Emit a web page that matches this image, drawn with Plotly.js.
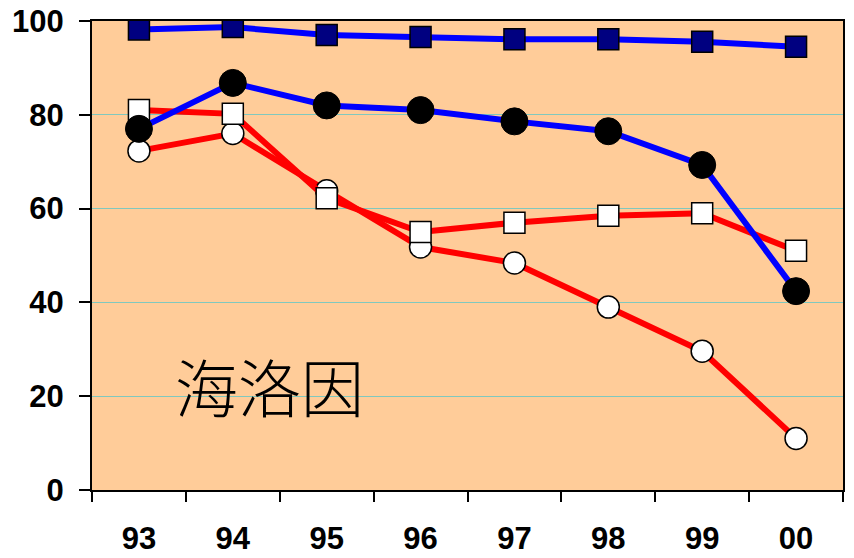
<!DOCTYPE html>
<html>
<head>
<meta charset="utf-8">
<script src="https://cdn.plot.ly/plotly-3.0.1.min.js"></script>
<style>html,body{margin:0;padding:0;background:#fff;overflow:hidden;}#chart{width:854px;height:558px;}</style>
</head>
<body>
<div id="chart"></div>
<script>
var years = ['93','94','95','96','97','98','99','00'];
var navySquares = [98.2, 98.7, 97.0, 96.6, 96.1, 96.1, 95.6, 94.5];
var blackCircles = [77.0, 86.8, 82.0, 81.0, 78.6, 76.5, 69.3, 42.4];
var whiteSquares = [81.0, 80.2, 62.2, 55.0, 57.0, 58.5, 59.0, 51.0];
var whiteCircles = [72.3, 76.0, 63.8, 51.8, 48.4, 39.0, 29.6, 11.0];
var yTicks = [0, 20, 40, 60, 80, 100];
var label = '海洛因';

var traces = [
  {x: years, y: whiteCircles, type: 'scatter', mode: 'lines+markers',
   line: {color: '#FF0000', width: 6},
   marker: {symbol: 'circle', size: 22, color: '#FFFFFF', line: {color: '#000000', width: 1.5}}},
  {x: years, y: whiteSquares, type: 'scatter', mode: 'lines+markers',
   line: {color: '#FF0000', width: 6},
   marker: {symbol: 'square', size: 21, color: '#FFFFFF', line: {color: '#000000', width: 1.5}}},
  {x: years, y: blackCircles, type: 'scatter', mode: 'lines+markers',
   line: {color: '#0000FF', width: 6},
   marker: {symbol: 'circle', size: 27, color: '#000000', line: {color: '#000000', width: 1}}},
  {x: years, y: navySquares, type: 'scatter', mode: 'lines+markers',
   line: {color: '#0000FF', width: 6},
   marker: {symbol: 'square', size: 21, color: '#000080', line: {color: '#000000', width: 1.5}}}
];

var layout = {
  width: 854, height: 558,
  margin: {l: 92, r: 11, t: 21, b: 68, pad: 0},
  paper_bgcolor: '#FFFFFF',
  plot_bgcolor: '#FFCC99',
  showlegend: false,
  font: {family: 'Liberation Sans, Arial, sans-serif', color: '#000000'},
  xaxis: {
    type: 'category', categoryorder: 'array', categoryarray: years,
    range: [-0.5, 7.5], autorange: false,
    tickvals: years, ticktext: years, automargin: false,
    showline: true, mirror: true, linecolor: '#000000', linewidth: 2,
    ticks: 'outside', tickson: 'boundaries', ticklen: 10, tickwidth: 2, tickcolor: '#000000',
    showgrid: false, zeroline: false,
    tickfont: {size: 31, family: 'Liberation Sans, Arial, sans-serif', weight: 'bold', color: '#000000'},
    ticklabelstandoff: 20
  },
  yaxis: {
    range: [0, 100], autorange: false, tickvals: yTicks, ticktext: yTicks.map(String), automargin: false,
    showline: true, mirror: true, linecolor: '#000000', linewidth: 2,
    ticks: 'outside', ticklen: 11, tickwidth: 2, tickcolor: '#000000',
    showgrid: true, gridcolor: '#80C8BE', gridwidth: 1, zeroline: false,
    tickfont: {size: 31, family: 'Liberation Sans, Arial, sans-serif', weight: 'bold', color: '#000000'},
    ticklabelstandoff: 9
  },
  annotations: [{
    text: label, xref: 'paper', yref: 'paper', x: 0.236, y: 0.224,
    xanchor: 'center', yanchor: 'middle', showarrow: false,
    font: {family: 'Noto Sans CJK SC, Noto Sans CJK JP, sans-serif', size: 63, color: '#000000', weight: 300}
  }]
};

Plotly.newPlot('chart', traces, layout, {displayModeBar: false, staticPlot: true});
</script>
</body>
</html>
